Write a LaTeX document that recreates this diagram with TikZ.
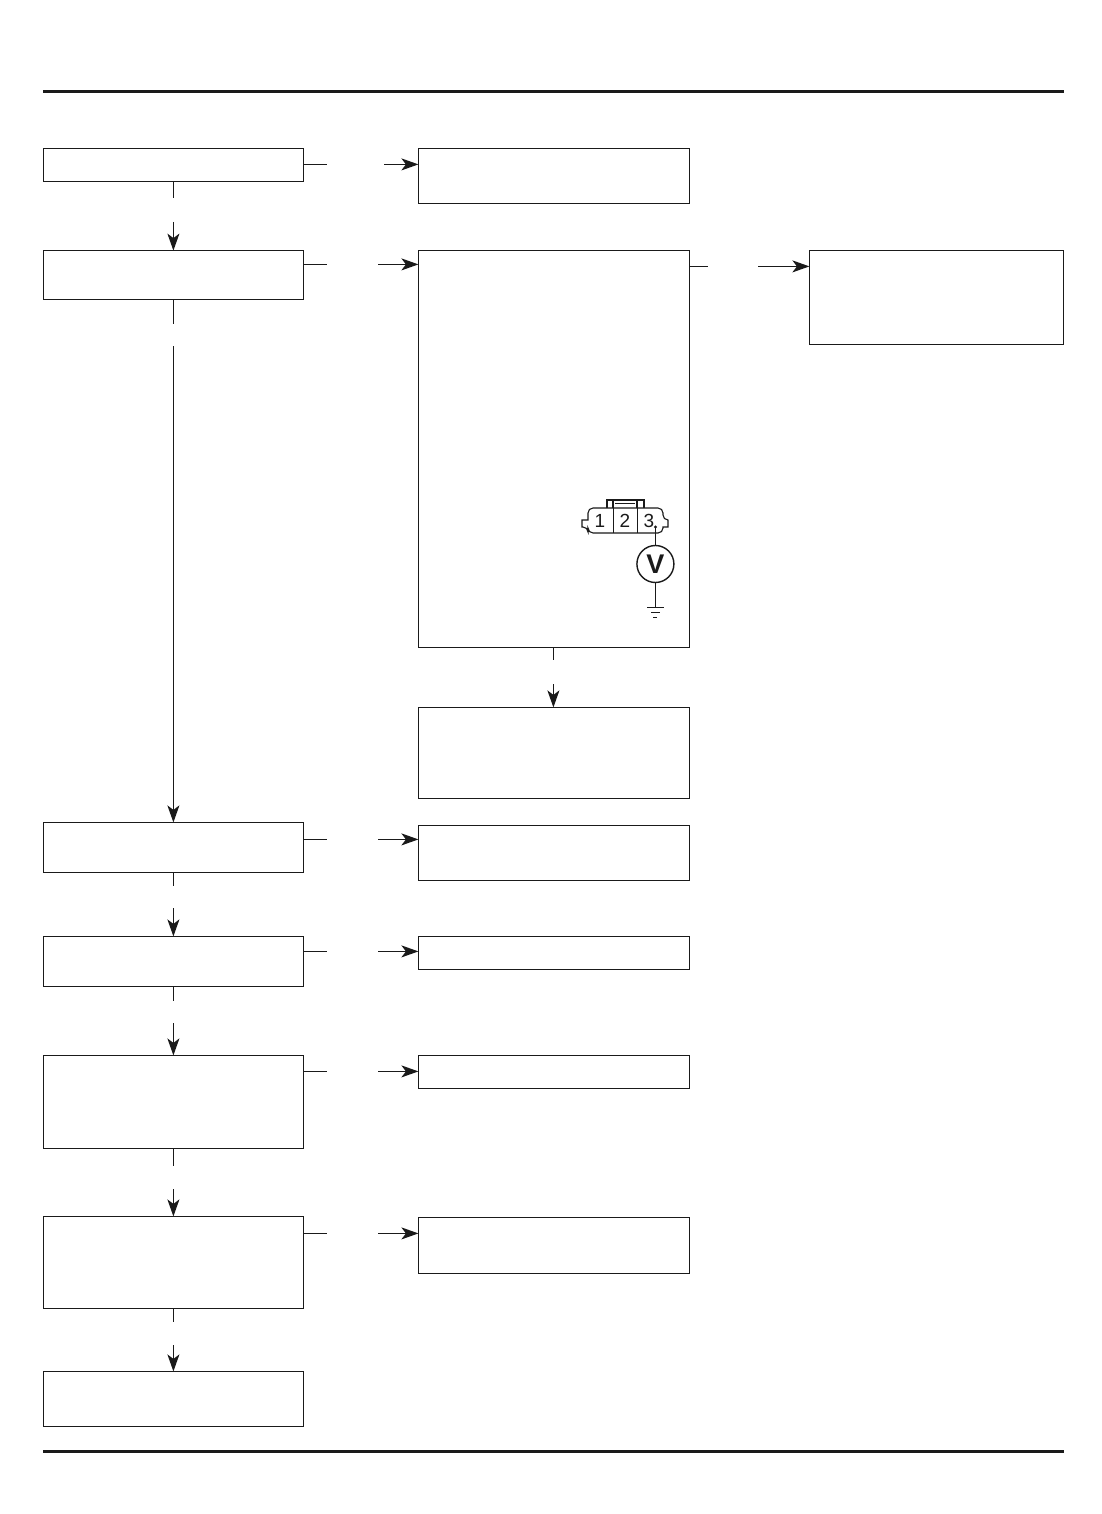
\documentclass[tikz,border=0pt]{standalone}
\usepackage{fontspec}
\setmainfont{Liberation Sans}
\usetikzlibrary{arrows.meta}
\definecolor{ink}{HTML}{1A1A1A}

\begin{document}
\begin{tikzpicture}[x=1pt,y=-1pt, box/.style={draw=ink,line width=1.3pt,anchor=north west,inner sep=0pt,outer sep=0pt}, left box/.style={box,minimum width=260pt}, mid box/.style={box,minimum width=271pt}, arr/.style={-{Stealth[length=17pt,width=12pt,inset=4.5pt]},line width=1.3pt,draw=ink}, stub/.style={line width=1.3pt,draw=ink}, rule/.style={line width=3.2pt,draw=ink}, wire/.style={line width=1.1pt,draw=ink}, pin/.style={inner sep=0pt,font=\fontsize{19}{19}\selectfont,text=ink}]
\useasboundingbox (0,0) rectangle (1102,1514);
\fill[white] (0,0) rectangle (1102,1514);
\draw[rule] (43,91.5)--(1064,91.5);
\draw[rule] (43,1451.5)--(1064,1451.5);
% left column
\node[left box,minimum height=33pt] (check1) at (43.4,148.6) {};
\node[left box,minimum height=49pt] (check2) at (43.4,250.6) {};
\node[left box,minimum height=50pt] (check3) at (43.4,822.4) {};
\node[left box,minimum height=50pt] (check4) at (43.4,936.4) {};
\node[left box,minimum height=93pt] (check5) at (43.4,1055.4) {};
\node[left box,minimum height=92pt] (check6) at (43.4,1216.4) {};
\node[left box,minimum height=55pt] (finish) at (43.4,1371.4) {};
% middle column
\node[mid box,minimum height=55pt] (repair1) at (418.4,148.6) {};
\node[mid box,minimum height=397pt] (measure) at (418.4,250.6) {};
\node[mid box,minimum height=91pt] (repair2) at (418.4,707.4) {};
\node[mid box,minimum height=55pt] (repair3) at (418.4,825.4) {};
\node[mid box,minimum height=33pt] (repair4) at (418.4,936.4) {};
\node[mid box,minimum height=33pt] (repair5) at (418.4,1055.4) {};
\node[mid box,minimum height=56pt] (repair6) at (418.4,1217.4) {};
% right column
\node[box,minimum width=254pt,minimum height=94pt] (repair7) at (809.4,250.6) {};
% gaps in the connectors
\coordinate (a1) at (327,164.4); \coordinate (b1) at (384,164.4);
\coordinate (a2) at (327,264.4); \coordinate (b2) at (378,264.4);
\coordinate (a3) at (327,839.4); \coordinate (b3) at (378,839.4);
\coordinate (a4) at (327,951.4); \coordinate (b4) at (378,951.4);
\coordinate (a5) at (327,1071.4); \coordinate (b5) at (378,1071.4);
\coordinate (a6) at (327,1233.4); \coordinate (b6) at (378,1233.4);
\coordinate (a7) at (708,266.4); \coordinate (b7) at (758,266.4);
\coordinate (d1) at (173.4,198); \coordinate (e1) at (173.4,222);
\coordinate (d2) at (173.4,324); \coordinate (e2) at (173.4,346);
\coordinate (d3) at (173.4,886); \coordinate (e3) at (173.4,908);
\coordinate (d4) at (173.4,1001); \coordinate (e4) at (173.4,1023);
\coordinate (d5) at (173.4,1166); \coordinate (e5) at (173.4,1189);
\coordinate (d6) at (173.4,1322); \coordinate (e6) at (173.4,1345);
\coordinate (d7) at (553.4,660); \coordinate (e7) at (553.4,684);
% yes/no branches
\draw[stub] (check1.east |- a1)--(a1);\draw[arr] (b1)--(repair1.west |- b1);
\draw[stub] (check2.east |- a2)--(a2);\draw[arr] (b2)--(measure.west |- b2);
\draw[stub] (check3.east |- a3)--(a3);\draw[arr] (b3)--(repair3.west |- b3);
\draw[stub] (check4.east |- a4)--(a4);\draw[arr] (b4)--(repair4.west |- b4);
\draw[stub] (check5.east |- a5)--(a5);\draw[arr] (b5)--(repair5.west |- b5);
\draw[stub] (check6.east |- a6)--(a6);\draw[arr] (b6)--(repair6.west |- b6);
\draw[stub] (measure.east |- a7)--(a7);\draw[arr] (b7)--(repair7.west |- b7);
\draw[stub] (check1.south)--(d1);\draw[arr] (e1)--(check2.north);
\draw[stub] (check2.south)--(d2);\draw[arr] (e2)--(check3.north);
\draw[stub] (check3.south)--(d3);\draw[arr] (e3)--(check4.north);
\draw[stub] (check4.south)--(d4);\draw[arr] (e4)--(check5.north);
\draw[stub] (check5.south)--(d5);\draw[arr] (e5)--(check6.north);
\draw[stub] (check6.south)--(d6);\draw[arr] (e6)--(finish.north);
\draw[stub] (d7 |- measure.south)--(d7);\draw[arr] (e7)--(e7 |- repair2.north);
% connector and voltmeter
\draw[wire] (582,520)--(588,520)[rounded corners=5pt]--(588,508)--(663,508)--(663,520)[sharp corners]--(668,520)--(668,527)--(663,527)[rounded corners=5pt]--(663,533)--(588,533)--(588,527)[sharp corners]--(582,527)--cycle;
\draw[wire] (607,508)--(607,500)--(613,500)--(613,508) (637,508)--(637,500)--(644,500)--(644,508) (613,500)--(637,500);
\draw[line width=.8pt,draw=ink] (613,508)--(613,533) (637,508)--(637,533) (615,503)--(635,503);
\node[pin] (p1) at (600,521) {1};
\node[pin] (p2) at (625,521) {2};
\node[pin] (p3) at (649,521) {3};
\node[draw=ink,line width=1.4pt,circle,minimum size=37pt,inner sep=0pt,font=\fontsize{27}{27}\selectfont\bfseries,text=ink] (volt) at (655.4,564) {V};
\coordinate (probe) at (655.4,527);
\coordinate (gnd) at (655.4,607);
\fill[ink] (probe) circle (1.6pt);
\draw[wire] (probe)--(volt);
\draw[wire] (volt)--(gnd);
\draw[wire] (647,607.4)--(664,607.4) (651,612.4)--(660,612.4) (653,617.4)--(657,617.4);
\end{tikzpicture}
\end{document}
